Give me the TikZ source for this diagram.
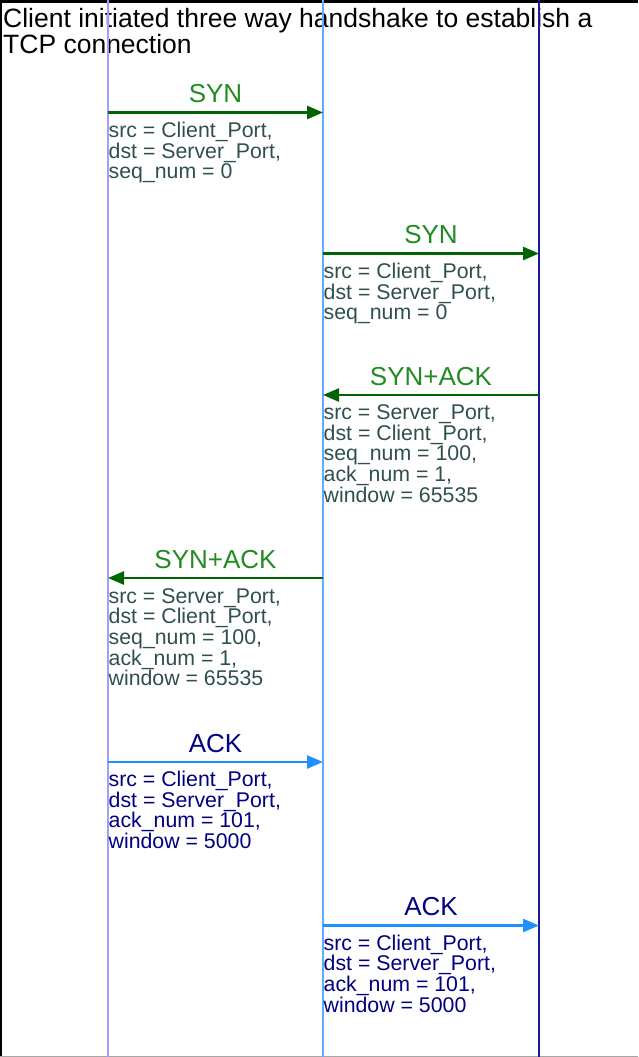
\documentclass[tikz,border=0pt]{standalone}
\usepackage{fontspec}
\setmainfont{Liberation Sans}
\usetikzlibrary{arrows.meta}

\definecolor{lifeA}{RGB}{165,156,255}
\definecolor{lifeB}{RGB}{96,170,255}
\definecolor{lifeC}{RGB}{26,26,153}
\definecolor{synline}{RGB}{0,100,0}
\definecolor{synlabel}{RGB}{34,139,34}
\definecolor{synbody}{RGB}{47,79,79}
\definecolor{ackline}{RGB}{30,144,255}
\definecolor{acktext}{RGB}{0,0,128}

% multi-line nodes sit on the baseline of their last line
\tikzset{
  lifeline/.style={line width=1.6pt},
  msg/.style={line width=2.6pt, -{Triangle[length=16pt,width=13pt]}},
  synmsg/.style={msg, draw=synline, fill=synline},
  ackmsg/.style={msg, draw=ackline, fill=ackline},
  msglabel/.style={inner sep=0pt, anchor=base, font=\fontsize{26}{26}\selectfont},
  msgbody/.style={inner sep=0pt, anchor=base west, align=left,
                  font=\fontsize{21.3}{20.7}\selectfont},
}

\begin{document}
\begin{tikzpicture}[x=1pt, y=-1pt]
  \useasboundingbox (0,0) rectangle (638,1057);

  % frame
  \draw[black, line width=2.6pt] (0.5,1057) -- (0.5,1.3) -- (638,1.3);
  \draw[gray!70, line width=1pt] (0,1056.5) -- (638,1056.5);

  % title
  \node[inner sep=0pt, anchor=base west, align=left,
        font=\fontsize{26.5}{26}\selectfont] (title) at (3,53.5)
    {Client initiated three way handshake to establish a\\TCP connection};

  % lifelines
  \coordinate (aT) at (108,0);   \coordinate (aB) at (108,1057);
  \coordinate (bT) at (323,0);   \coordinate (bB) at (323,1057);
  \coordinate (cT) at (539,0);   \coordinate (cB) at (539,1057);
  \draw[lifeline, lifeA] (aT) -- (aB);
  \draw[lifeline, lifeB] (bT) -- (bB);
  \draw[lifeline, lifeC] (cT) -- (cB);

  % message end points
  \coordinate (m1s) at (108,112.5); \coordinate (m1e) at (323,112.5);
  \coordinate (m2s) at (323,253.5); \coordinate (m2e) at (539,253.5);
  \coordinate (m3s) at (539,395);   \coordinate (m3e) at (323,395);
  \coordinate (m4s) at (323,578);   \coordinate (m4e) at (108,578);
  \coordinate (m5s) at (108,762);   \coordinate (m5e) at (323,762);
  \coordinate (m6s) at (323,925.5); \coordinate (m6e) at (539,925.5);

  % SYN: client -> proxy
  \draw[synmsg] (m1s) -- (m1e);
  \node[msglabel, text=synlabel] (l1) at (215.5,102.5) {SYN};
  \node[msgbody, text=synbody] (b1) at (108.5,178.7)
    {src = Client\_Port,\\dst = Server\_Port,\\seq\_num = 0};

  % SYN: proxy -> server
  \draw[synmsg] (m2s) -- (m2e);
  \node[msglabel, text=synlabel] (l2) at (431,243.5) {SYN};
  \node[msgbody, text=synbody] (b2) at (323.5,319.9)
    {src = Client\_Port,\\dst = Server\_Port,\\seq\_num = 0};

  % SYN+ACK: server -> proxy
  \draw[synmsg] (m3s) -- (m3e);
  \node[msglabel, text=synlabel] (l3) at (431,385) {SYN+ACK};
  \node[msgbody, text=synbody] (b3) at (323.5,502.3)
    {src = Server\_Port,\\dst = Client\_Port,\\seq\_num = 100,\\ack\_num = 1,\\window = 65535};

  % SYN+ACK: proxy -> client
  \draw[synmsg] (m4s) -- (m4e);
  \node[msglabel, text=synlabel] (l4) at (215.5,568) {SYN+ACK};
  \node[msgbody, text=synbody] (b4) at (108.5,685.8)
    {src = Server\_Port,\\dst = Client\_Port,\\seq\_num = 100,\\ack\_num = 1,\\window = 65535};

  % ACK: client -> proxy
  \draw[ackmsg] (m5s) -- (m5e);
  \node[msglabel, text=acktext] (l5) at (215.5,752) {ACK};
  \node[msgbody, text=acktext] (b5) at (108.5,848.6)
    {src = Client\_Port,\\dst = Server\_Port,\\ack\_num = 101,\\window = 5000};

  % ACK: proxy -> server
  \draw[ackmsg] (m6s) -- (m6e);
  \node[msglabel, text=acktext] (l6) at (431,915.5) {ACK};
  \node[msgbody, text=acktext] (b6) at (323.5,1012.1)
    {src = Client\_Port,\\dst = Server\_Port,\\ack\_num = 101,\\window = 5000};
\end{tikzpicture}
\end{document}
